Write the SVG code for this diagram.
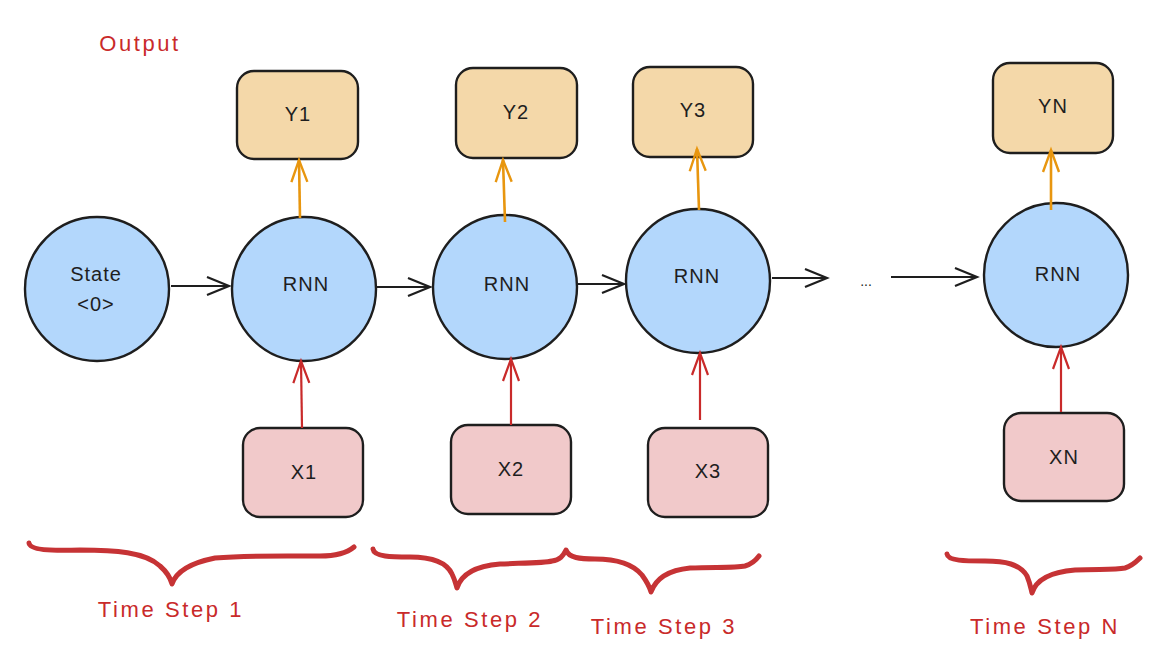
<svg xmlns="http://www.w3.org/2000/svg" width="1174" height="663" viewBox="0 0 1174 663">
<defs>
<style>
.circ{fill:#b3d7fc;stroke:#1e1e1e;stroke-width:2.4}
.ybox{fill:#f4d8a9;stroke:#1e1e1e;stroke-width:2.4}
.xbox{fill:#f1c9ca;stroke:#1e1e1e;stroke-width:2.4}
.lbl{font-family:"Liberation Sans",Arial,sans-serif;font-size:20px;fill:#1e1e1e;text-anchor:middle;letter-spacing:1px}
.red{font-family:"Liberation Sans",Arial,sans-serif;font-size:22px;fill:#c92a2a;text-anchor:middle;letter-spacing:2.6px}
.blk{stroke:#1e1e1e;stroke-width:2.2;fill:none}
.org{stroke:#e8960f;stroke-width:2.6;fill:none}
.rd{stroke:#c92a2a;stroke-width:2.2;fill:none}
.brace{stroke:#c63335;stroke-width:5;fill:none;stroke-linecap:round;stroke-linejoin:round}
</style>
<marker id="mb" markerUnits="userSpaceOnUse" markerWidth="30" markerHeight="30" refX="0" refY="0" viewBox="-25 -15 30 30" orient="auto" overflow="visible">
<path d="M-22,-9 L0,0 L-22,9" fill="none" stroke="#1e1e1e" stroke-width="2.2"/>
</marker>
<marker id="mo" markerUnits="userSpaceOnUse" markerWidth="30" markerHeight="30" refX="0" refY="0" viewBox="-25 -15 30 30" orient="auto" overflow="visible">
<path d="M-22,-8 L0,0 L-22,8" fill="none" stroke="#e8960f" stroke-width="2.4"/>
</marker>
<marker id="mr" markerUnits="userSpaceOnUse" markerWidth="30" markerHeight="30" refX="0" refY="0" viewBox="-25 -15 30 30" orient="auto" overflow="visible">
<path d="M-22,-8 L0,0 L-22,8" fill="none" stroke="#c92a2a" stroke-width="2.2"/>
</marker>
</defs>
<rect width="1174" height="663" fill="#ffffff"/>

<text class="red" x="140" y="51">Output</text>

<g id="state0"><circle class="circ" cx="97" cy="289" r="72"/><text class="lbl" x="96" y="281">State</text><text class="lbl" x="96" y="311">&lt;0&gt;</text></g>
<g id="rnn1"><circle class="circ" cx="304" cy="289" r="72"/><text class="lbl" x="306" y="291">RNN</text></g>
<g id="rnn2"><circle class="circ" cx="505" cy="287" r="72"/><text class="lbl" x="507" y="291">RNN</text></g>
<g id="rnn3"><circle class="circ" cx="698" cy="281" r="72"/><text class="lbl" x="697" y="283">RNN</text></g>
<g id="rnnN"><circle class="circ" cx="1056" cy="275" r="72"/><text class="lbl" x="1058" y="281">RNN</text></g>

<g id="y1"><rect class="ybox" x="237" y="71" width="121" height="88" rx="17"/><text class="lbl" x="298" y="121">Y1</text></g>
<g id="y2"><rect class="ybox" x="456" y="68" width="121" height="90" rx="17"/><text class="lbl" x="516" y="119">Y2</text></g>
<g id="y3"><rect class="ybox" x="633" y="67" width="120" height="90" rx="17"/><text class="lbl" x="693" y="117">Y3</text></g>
<g id="yN"><rect class="ybox" x="993" y="63" width="120" height="90" rx="17"/><text class="lbl" x="1053" y="113">YN</text></g>

<g id="x1"><rect class="xbox" x="243" y="428" width="120" height="89" rx="17"/><text class="lbl" x="304" y="479">X1</text></g>
<g id="x2"><rect class="xbox" x="451" y="425" width="120" height="89" rx="17"/><text class="lbl" x="511" y="476">X2</text></g>
<g id="x3"><rect class="xbox" x="648" y="428" width="120" height="89" rx="17"/><text class="lbl" x="708" y="478">X3</text></g>
<g id="xN"><rect class="xbox" x="1004" y="413" width="120" height="88" rx="17"/><text class="lbl" x="1064" y="464">XN</text></g>

<text x="866" y="286" font-family="Liberation Sans,Arial,sans-serif" font-size="14" fill="#1e1e1e" text-anchor="middle">...</text>

<g id="connectors">
<line class="blk" x1="171" y1="286" x2="229" y2="286" marker-end="url(#mb)"/>
<line class="blk" x1="377" y1="287" x2="430" y2="287" marker-end="url(#mb)"/>
<line class="blk" x1="578" y1="284" x2="624" y2="284" marker-end="url(#mb)"/>
<line class="blk" x1="772" y1="278" x2="827" y2="278" marker-end="url(#mb)"/>
<line class="blk" x1="891" y1="277" x2="977" y2="277" marker-end="url(#mb)"/>

<line class="org" x1="300" y1="218" x2="299" y2="160" marker-end="url(#mo)"/>
<line class="org" x1="505" y1="222" x2="503" y2="160" marker-end="url(#mo)"/>
<line class="org" x1="699" y1="210" x2="697" y2="149" marker-end="url(#mo)"/>
<line class="org" x1="1051" y1="210" x2="1051" y2="150" marker-end="url(#mo)"/>

<line class="rd" x1="302" y1="428" x2="301" y2="361" marker-end="url(#mr)"/>
<line class="rd" x1="511" y1="425" x2="511" y2="359" marker-end="url(#mr)"/>
<line class="rd" x1="700" y1="420" x2="700" y2="353" marker-end="url(#mr)"/>
<line class="rd" x1="1061" y1="412" x2="1061" y2="347" marker-end="url(#mr)"/>
</g>

<path class="brace" d="M29,543 C30,550 50,551 80,550 C115,550 145,552 160,566 C168,573 171,580 172,584 C176,572 190,563 215,558 C250,555 290,556 320,556 C338,556 348,552 354,547"/>
<path class="brace" d="M373,549 C374,557 392,557 410,557 C430,557 446,561 452,574 C455,580 456,585 457,588 C461,575 475,566 500,564 C525,563 545,563 552,561 C560,560 563,556 566,550 C569,558 580,559 595,559 C615,559 632,563 642,575 C647,582 650,588 651,592 C656,578 670,570 690,568 C715,567 735,568 745,566 C752,564 756,560 759,556"/>
<path class="brace" d="M947,554 C948,561 965,561 985,561 C1005,561 1020,564 1027,576 C1030,583 1031,589 1032,593 C1036,580 1050,572 1075,570 C1100,569 1115,570 1125,568 C1132,566 1136,562 1140,558"/>

<text class="red" x="171" y="617">Time Step 1</text>
<text class="red" x="470" y="627">Time Step 2</text>
<text class="red" x="664" y="634">Time Step 3</text>
<text class="red" x="1045" y="634">Time Step N</text>
</svg>
